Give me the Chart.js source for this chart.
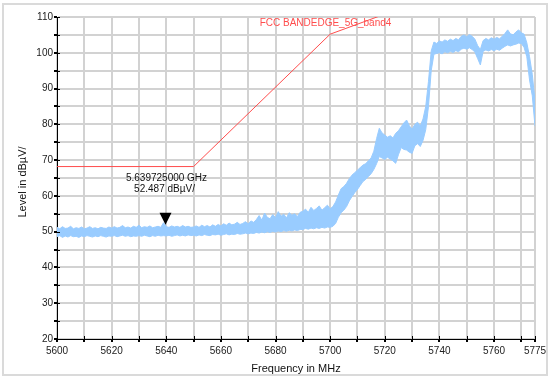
<!DOCTYPE html>
<html><head><meta charset="utf-8">
<script src="https://cdn.jsdelivr.net/npm/chart.js@4/dist/chart.umd.min.js"></script>
<style>html,body{margin:0;padding:0;background:#fff}canvas{display:block}</style>
</head><body>
<canvas id="c" width="550" height="378"></canvas>
<script>
// ---- data ----
const freqMHz = [
5600,5601,5602,5603,5604,5605,5606,5607,5608,5609,5610,5611,5612,5613,5614,5615,5616,5617,5618,5619,
5620,5621,5622,5623,5624,5625,5626,5627,5628,5629,5630,5631,5632,5633,5634,5635,5636,5637,5638,5639,
5640,5641,5642,5643,5644,5645,5646,5647,5648,5649,5650,5651,5652,5653,5654,5655,5656,5657,5658,5659,
5660,5661,5662,5663,5664,5665,5666,5667,5668,5669,5670,5671,5672,5673,5674,5675,5676,5677,5678,5679,
5680,5681,5682,5683,5684,5685,5686,5687,5688,5689,5690,5691,5692,5693,5694,5695,5696,5697,5698,5699,
5700,5701,5702,5703,5704,5705,5706,5707,5708,5709,5710,5711,5712,5713,5714,5715,5716,5717,5718,5719,
5720,5721,5722,5723,5724,5725,5726,5727,5728,5729,5730,5731,5732,5733,5734,5735,5736,5737,5738,5739,
5740,5741,5742,5743,5744,5745,5746,5747,5748,5749,5750,5751,5752,5753,5754,5755,5756,5757,5758,5759,
5760,5761,5762,5763,5764,5765,5766,5767,5768,5769,5770,5771,5772,5773,5774,5775];
// upper edge of the noisy trace (dBµV/)
const traceUpper = [
51.2,50.8,51.4,50.9,51.0,51.5,50.8,51.1,50.9,51.3,50.8,51.0,51.4,50.9,51.1,50.8,51.2,51.0,50.9,51.3,
51.0,51.4,51.0,51.2,51.7,51.1,51.3,51.0,51.5,51.2,51.8,51.1,51.4,51.2,51.6,51.1,51.3,51.5,51.2,52.5,
51.4,51.2,51.6,51.3,51.5,51.2,51.7,51.3,51.5,51.2,51.3,51.6,51.2,51.8,51.4,51.7,51.3,51.9,51.5,52.0,
51.6,52.2,51.8,52.4,51.9,52.1,52.6,52.0,52.3,52.8,52.2,53.0,52.6,53.4,54.5,53.2,55.2,54.0,53.6,54.8,
53.9,55.6,54.3,54.9,53.8,55.3,54.6,55.0,54.2,55.4,55.7,56.3,55.4,56.8,55.9,56.5,57.2,56.0,56.7,57.4,
56.4,57.0,58.3,60.2,62.0,62.6,63.5,64.8,65.8,66.5,67.2,67.9,68.6,69.0,69.8,70.6,72.5,76.0,78.9,77.6,
77.0,76.4,76.8,76.2,77.5,78.2,79.3,80.4,81.2,79.6,78.6,80.0,80.6,79.5,81.5,85.0,92.0,100.5,103.0,102.6,
103.3,103.0,103.6,103.2,103.8,103.4,104.0,103.6,104.6,105.0,104.5,105.1,104.6,103.8,102.0,100.9,103.4,104.0,103.6,104.2,
103.8,104.3,103.9,104.6,105.4,106.4,105.3,105.0,105.8,106.4,105.6,105.2,102.8,98.9,94.0,86.5];
// lower edge of the noisy trace (dBµV/)
const traceLower = [
48.6,48.9,48.4,48.8,48.5,48.9,48.6,48.7,48.4,48.8,48.6,48.9,48.7,48.5,48.8,48.6,48.9,48.7,48.5,48.8,
48.7,48.9,48.6,48.8,49.0,48.7,48.9,48.6,48.8,48.7,48.9,48.7,49.0,48.8,48.6,48.9,48.7,49.0,48.8,48.9,
48.8,49.0,48.7,48.9,49.1,48.8,49.0,48.8,49.1,48.9,49.0,48.8,49.1,48.9,49.2,49.0,48.9,49.2,49.1,49.3,
49.0,49.2,49.4,49.1,49.3,49.2,49.5,49.3,49.4,49.6,49.4,49.6,49.5,49.8,49.6,49.9,49.7,50.0,49.8,50.1,
49.9,50.2,50.0,50.3,50.1,50.4,50.2,50.5,50.3,50.6,50.6,50.9,50.7,51.0,50.8,51.1,50.9,51.2,51.0,51.3,
51.2,51.5,52.3,54.0,55.3,56.0,57.0,58.6,59.8,60.9,61.8,62.9,64.0,64.6,65.4,66.2,67.4,69.0,71.0,70.6,
70.2,70.8,70.3,69.8,69.1,71.5,73.5,73.0,72.8,72.2,71.9,74.0,74.6,73.8,75.5,78.5,85.0,95.0,99.6,99.8,
100.0,99.7,100.3,100.0,100.4,100.1,100.6,100.3,101.0,101.3,101.0,101.4,100.9,100.2,98.4,96.6,100.4,100.8,100.5,100.9,
100.6,101.0,100.7,101.3,101.8,102.2,101.9,102.2,102.4,102.7,102.6,101.5,98.9,92.4,88.0,79.5];
// FCC band-edge limit line
const limitFreq  = [5600, 5650, 5700, 5720, 5725];
const limitLevel = [68.2, 68.2, 105.2, 110.8, 122.2];
const limitName = "FCC BANDEDGE_5G_band4";
// marker
const markerFreq = 5639.725;
const markerLevel = 52.487;
const markerLines = ["5.639725000 GHz", "52.487 dBµV/"];
// axes
const xTickValues = [5600,5610,5620,5630,5640,5650,5660,5670,5680,5690,5700,5710,5720,5730,5740,5750,5760,5770,5775];
const xLabelValues = [5600,5620,5640,5660,5680,5700,5720,5740,5760,5775];
const yLabelValues = [20,30,40,50,60,70,80,90,100,110];
const xTitle = "Frequency in MHz";
const yTitle = "Level in dBµV/";

const FONT = "'Liberation Sans', Arial, sans-serif";
const traceColor = "#99ccff";
const limitColor = "#ff4d4d";

const pts = (xs, ys) => xs.map((x, i) => ({x: x, y: ys[i]}));

const decor = {
  id: 'decor',
  beforeDraw(chart) {
    const c = chart.ctx;
    c.save();
    c.fillStyle = '#fff';
    c.fillRect(0, 0, chart.width, chart.height);
    c.strokeStyle = '#dadada';
    c.lineWidth = 2;
    c.strokeRect(3, 4, 544, 371);
    c.restore();
  },
  afterDraw(chart) {
    const c = chart.ctx, xs = chart.scales.x, ys = chart.scales.y, a = chart.chartArea;
    c.save();
    // inner tick marks
    c.strokeStyle = '#000'; c.lineWidth = 1;
    c.beginPath();
    ys.ticks.forEach(t => { const y = Math.round(ys.getPixelForValue(t.value)) + 0.5; c.moveTo(a.left, y); c.lineTo(a.left + 3, y); });
    xs.ticks.forEach(t => { const x = Math.round(xs.getPixelForValue(t.value)) + 0.5; c.moveTo(x, a.bottom); c.lineTo(x, a.bottom - 3); });
    c.stroke();
    // marker
    const mx = xs.getPixelForValue(markerFreq), my = ys.getPixelForValue(markerLevel);
    c.fillStyle = '#000';
    c.beginPath();
    c.moveTo(mx, my + 2); c.lineTo(mx - 6, my - 10); c.lineTo(mx + 6, my - 10); c.closePath(); c.fill();
    c.font = '10px ' + FONT; c.textAlign = 'center'; c.textBaseline = 'middle'; c.fillStyle = '#111';
    c.fillText(markerLines[0], mx + 1, my - 45);
    c.fillText(markerLines[1], mx - 1, my - 34);
    // limit label
    c.fillStyle = limitColor;
    c.fillText(limitName, xs.getPixelForValue(5698.3), a.top + 6);
    // axis titles
    c.fillStyle = '#111'; c.font = '11px ' + FONT;
    c.fillText(xTitle, (a.left + a.right) / 2, 369);
    c.translate(23, (a.top + a.bottom) / 2 + 4);
    c.rotate(-Math.PI / 2);
    c.fillText(yTitle, 0, 0);
    c.restore();
  }
};

new Chart(document.getElementById('c'), {
  type: 'line',
  data: {
    datasets: [
      { label: 'limit', data: pts(limitFreq, limitLevel), borderColor: limitColor, borderWidth: 1, pointRadius: 0, fill: false, tension: 0 },
      { label: 'upper', data: pts(freqMHz, traceUpper), borderColor: traceColor, backgroundColor: traceColor, borderWidth: 1, pointRadius: 0, fill: '+1', tension: 0 },
      { label: 'lower', data: pts(freqMHz, traceLower), borderColor: traceColor, borderWidth: 1, pointRadius: 0, fill: false, tension: 0 }
    ]
  },
  options: {
    responsive: false, animation: false, devicePixelRatio: 1,
    layout: { padding: { left: 0, right: 15, top: 17, bottom: 0 } },
    plugins: { legend: { display: false }, tooltip: { enabled: false } },
    scales: {
      x: {
        type: 'linear', min: 5600, max: 5775,
        afterBuildTicks: s => { s.ticks = xTickValues.map(v => ({ value: v })); },
        afterFit: s => { s.height = 39; },
        grid: { color: '#d2d2d2', lineWidth: 2, tickLength: 3, tickColor: '#000' },
        border: { color: '#000', width: 1 },
        ticks: { autoSkip: false, maxRotation: 0, padding: 3, color: '#222', font: { family: FONT, size: 10 },
                 callback: v => xLabelValues.includes(v) ? String(v) : '' }
      },
      y: {
        min: 20, max: 110,
        afterBuildTicks: s => { const t = []; for (let v = 20; v <= 110; v += 5) t.push({ value: v }); s.ticks = t; },
        afterFit: s => { s.width = 57; },
        grid: { color: '#d2d2d2', lineWidth: 2, tickLength: 3, tickColor: '#000' },
        border: { color: '#000', width: 1 },
        ticks: { autoSkip: false, padding: 1, color: '#222', font: { family: FONT, size: 10 },
                 callback: v => yLabelValues.includes(v) ? String(v) : '' }
      }
    }
  },
  plugins: [decor]
});
</script>
</body></html>
